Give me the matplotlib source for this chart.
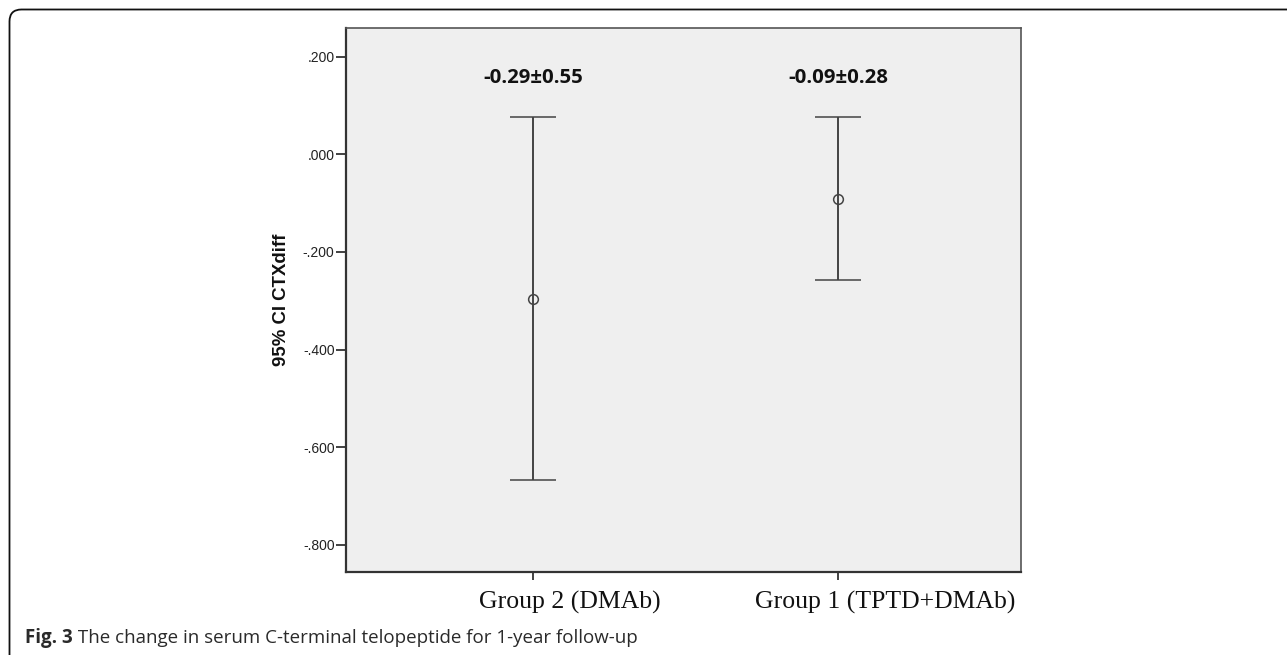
import matplotlib
matplotlib.use("Agg")
import matplotlib.pyplot as plt
from matplotlib.patches import FancyBboxPatch
from matplotlib.transforms import IdentityTransform, ScaledTranslation

groups = ["Group 2 (DMAb)", "Group 1 (TPTD+DMAb)"]
means = [-0.296, -0.091]
ci_low = [-0.668, -0.257]
ci_high = [0.077, 0.077]
annot = ["-0.29\u00b10.55", "-0.09\u00b10.28"]
yticks = [0.2, 0.0, -0.2, -0.4, -0.6, -0.8]
ytick_labels = [".200", ".000", "-.200", "-.400", "-.600", "-.800"]
caption_bold = "Fig. 3"
caption_text = " The change in serum C-terminal telopeptide for 1-year follow-up"

W, H = 1287, 655
fig = plt.figure(figsize=(W / 100, H / 100), dpi=100)
fig.patch.set_facecolor("white")

# outer rounded frame (extends beyond right/bottom edges)
frame = FancyBboxPatch((9.5, -40), W + 60, H - 9.5 + 40,
                       boxstyle="round,pad=0,rounding_size=12",
                       transform=IdentityTransform(), fill=False,
                       edgecolor="#111111", linewidth=1.3, zorder=0)
fig.patches.append(frame)

ax = fig.add_axes([345.7 / W, 1 - 571.7 / H, (1021 - 345.7) / W, (571.7 - 28.3) / H])
ax.set_facecolor("#efefef")
line_c = "#444444"
x = list(range(len(groups)))
lower = [m - l for m, l in zip(means, ci_low)]
upper = [h - m for m, h in zip(means, ci_high)]
ax.errorbar(x, means, yerr=[lower, upper], fmt="o", mfc="none", mec=line_c,
            ms=7, mew=1.1, ecolor=line_c, elinewidth=1.4, capsize=16.8, capthick=1.6,
            color=line_c)
for xi, hi, t in zip(x, ci_high, annot):
    ax.text(xi, hi + 0.079, t, ha="center", va="center", fontsize=14.7,
            fontweight="bold", family="Open Sans", color="#111111")

ax.set_xlim(-0.616, 1.601)
ax.set_ylim(-0.855, 0.258)
ax.set_yticks(yticks)
ax.set_yticklabels(ytick_labels, family="Liberation Sans", fontsize=10, color="#222222")
ax.set_xticks(x)
ax.set_xticklabels(groups, family="Liberation Serif", fontsize=18.5, color="#111111")
ax.tick_params(axis="y", direction="out", length=7, width=1.3, color="#333333", pad=1)
ax.tick_params(axis="x", direction="out", length=6, width=1.3, color="#333333", pad=8)
label_shift_px = [36, 47]
for lab, dx in zip(ax.get_xticklabels(), label_shift_px):
    lab.set_transform(lab.get_transform() + ScaledTranslation(dx / 100, 0, fig.dpi_scale_trans))
for s in ax.spines.values():
    s.set_color("#555555")
    s.set_linewidth(1.2)
ax.spines["left"].set_color("#333333")
ax.spines["bottom"].set_color("#333333")
ax.spines["left"].set_linewidth(1.6)
ax.spines["bottom"].set_linewidth(1.6)

fig.text(281.7 / W, 1 - 300 / H, "95% CI CTXdiff", rotation=90, ha="center", va="center",
         family="Liberation Sans", fontweight="bold", fontsize=13.4, color="#111111")

t1 = fig.text(25 / W, 1 - 638 / H, caption_bold, ha="left", va="center",
              family="Open Sans", fontweight="bold", fontsize=13.5, color="#2a2a2a")
fig.canvas.draw()
bb = t1.get_window_extent()
fig.text(bb.x1 / W, 1 - 638 / H, caption_text, ha="left", va="center",
         family="Open Sans", fontsize=13.5, color="#2a2a2a")

fig.savefig("out.png", dpi=100)
